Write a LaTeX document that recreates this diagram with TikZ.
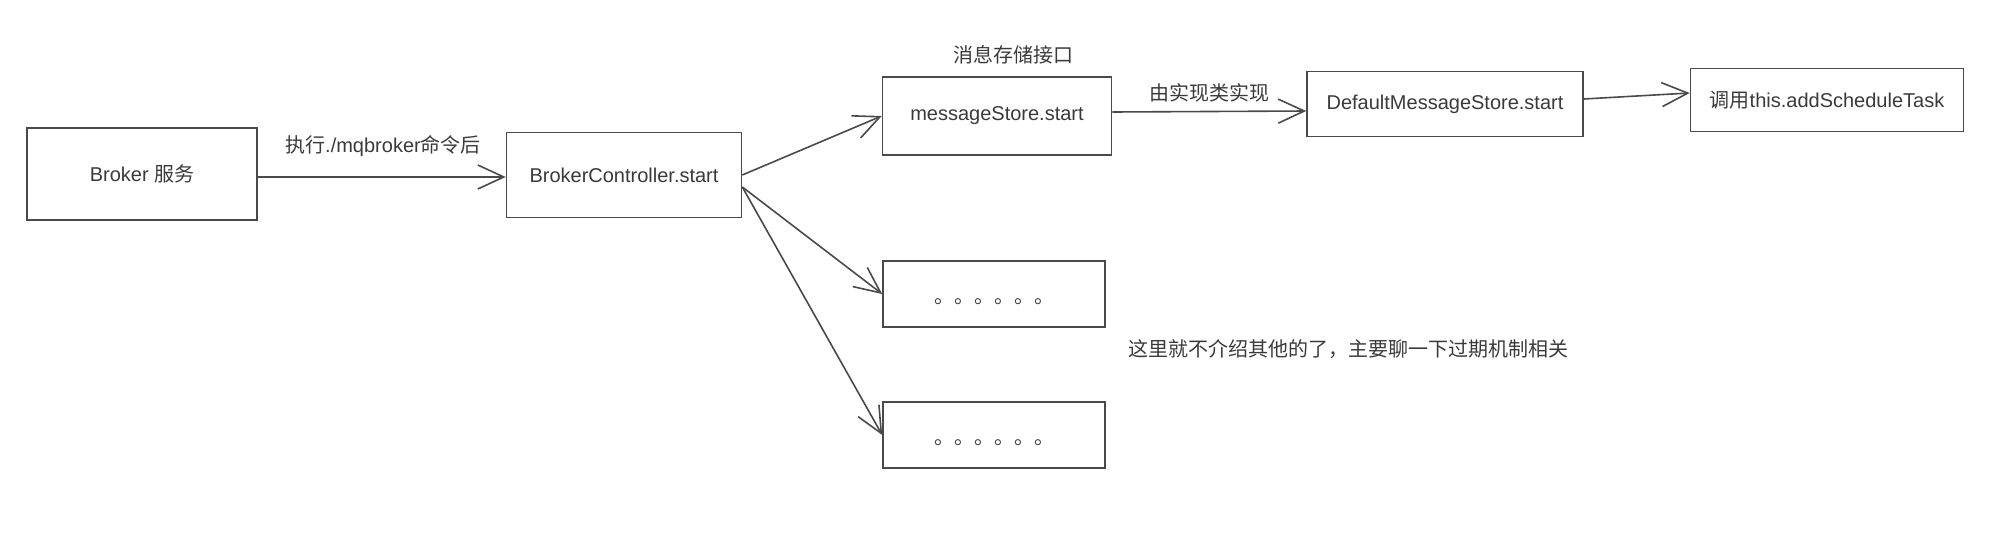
\documentclass[tikz,border=0pt]{standalone}
\usepackage{fontspec}
\setmainfont{Liberation Sans}
\newfontfamily\cjk{Noto Sans CJK SC}
\usetikzlibrary{arrows.meta}
\definecolor{inkline}{HTML}{4A4A4A}
\definecolor{inktext}{HTML}{3A3A3A}
\tikzset{
  sketchbox/.style={draw=inkline, line width=1.6pt, rectangle, text=inktext, inner sep=0pt},
  flow/.style={draw=inkline, line width=1.6pt, -{Straight Barb[length=26pt,width=24pt]}},
  note/.style={text=inktext, inner sep=0pt}
}
\newcommand\skipdots{\smash{\raisebox{-9pt}{\cjk 。。。。。。}}}
\begin{document}
\begin{tikzpicture}[x=1pt, y=-1pt, font=\fontsize{20}{24}\selectfont]
  \useasboundingbox (0,0) rectangle (2000,549);
  % boxes
  \node[sketchbox, minimum width=230pt, minimum height=92pt] (broker) at (142,174) {Broker {\cjk 服务}};
  \node[sketchbox, minimum width=235pt, minimum height=85pt] (ctrl) at (624,175) {BrokerController.start};
  \node[sketchbox, minimum width=229pt, minimum height=78pt] (store) at (997,116) {messageStore.start};
  \node[sketchbox, minimum width=276pt, minimum height=65pt] (dstore) at (1445,104) {DefaultMessageStore.start};
  \node[sketchbox, minimum width=273pt, minimum height=63pt] (task) at (1827,100) {{\cjk 调用}this.addScheduleTask};
  \node[sketchbox, minimum width=222pt, minimum height=66pt] (dotsa) at (994,294) {\skipdots};
  \node[sketchbox, minimum width=222pt, minimum height=66pt] (dotsb) at (994,435) {\skipdots};
  % labels
  \node[note] (runlbl) at (383,146) {{\cjk 执行}./mqbroker{\cjk 命令后}};
  \node[note] (ifacelbl) at (1013,55) {\cjk 消息存储接口};
  \node[note] (impllbl) at (1209,93) {\cjk 由实现类实现};
  \node[note] (remark) at (1348,349) {\cjk 这里就不介绍其他的了，主要聊一下过期机制相关};
  % connectors
  \draw[flow] ([yshift=-3pt]broker.east) -- ([yshift=-2pt]ctrl.west);
  \draw[flow] (ctrl.east) -- (store.west);
  \draw[flow] ([yshift=-12pt]ctrl.east) -- (dotsa.west);
  \draw[flow] ([yshift=-12pt]ctrl.east) -- (dotsb.west);
  \draw[flow] ([yshift=4pt]store.east) -- ([yshift=-7pt]dstore.west);
  \draw[flow] ([yshift=5pt]dstore.east) -- ([yshift=7pt]task.west);
\end{tikzpicture}
\end{document}
